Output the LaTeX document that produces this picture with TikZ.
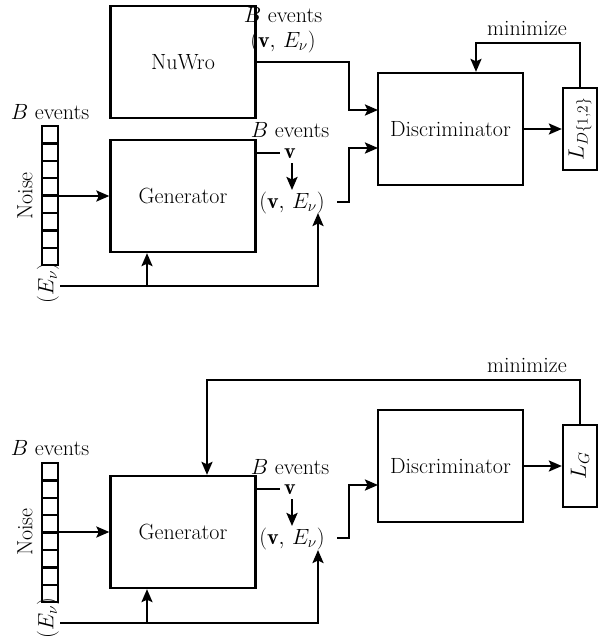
\RequirePackage{fix-cm}
\documentclass[tikz,border=0pt]{standalone}
\usepackage{fontspec}
\usetikzlibrary{arrows.meta}
\begin{document}
\begin{tikzpicture}[x=1pt,y=-1pt,
  every node/.style={font=\fontsize{22}{26}\selectfont, inner sep=0pt},
  blk/.style={draw, line width=2.3pt, minimum width=145pt, minimum height=112pt},
  lossbox/.style={draw, line width=2.3pt, minimum width=34pt, minimum height=82pt},
  wire/.style={line width=2.3pt},
  arr/.style={line width=2.3pt, -{Stealth[length=13pt,width=11pt,inset=2.5pt]}},
  cell/.style={draw, line width=2.3pt, minimum width=16pt, minimum height=17.4pt},
  strip/.style={draw, line width=2.3pt, minimum width=16pt, minimum height=139.2pt}]
\useasboundingbox (0,0) rectangle (600,638);

% ================= TOP =================
\node[blk] (nuwro) at (183,62) {NuWro};
\node[blk] (gen1) at (183,196) {Generator};
\node[blk] (disc1) at (450.5,129) {Discriminator};
\node[lossbox] (ld) at (580,129) {};
\node[rotate=90] at (ld.center) {$L_{D\{1,2\}}$};

% noise strip
\foreach \i in {0,...,7} {
  \node[cell] (c1\i) at (50,{134.7+17.4*\i}) {};
}
\node[strip] (noise1) at (50,195.5) {};
\node at (50,112) {$B$ events};
\node[rotate=90] (nlab1) at (25,196) {Noise};
\node[rotate=90] (ev1) at (48,283) {$(E_\nu)$};

\node (nb1) at (283,15) {$B$ events};
\node (nv1) at (283,42) {$(\mathbf{v},\,E_\nu)$};

\node (gb1) at (290,130) {$B$ events};
\node (gv1) at (290,154) {$\mathbf{v}$};
\node (gve1) at (292,203) {$(\mathbf{v},\,E_\nu)$};
\node (min1) at (527,28) {minimize};

\coordinate (d1a) at (378,110);
\coordinate (d1b) at (378,148);
\coordinate (e1) at (60,286);

\draw[arr] (noise1.east |- gen1.west) -- (gen1.west);
\draw[arr] (nuwro.east) -- (349,62) |- (d1a);
\draw[wire] (gen1.east |- 0,153) -- (280,153);
\draw[arr] (292,163) -- (292,190);
\draw[arr] (337,202) -- (349,202) |- (d1b);
\draw[arr] (e1) -- (318,286) -- (318,213);
\draw[arr] (147,286) -- (gen1.south -| 147,0);
\draw[arr] (disc1.east) -- (ld.west);
\draw[arr] (ld.north) |- (476,43) -- (disc1.north -| 476,0);

% ================= BOTTOM =================
\node[blk] (gen2) at (183,532) {Generator};
\node[blk] (disc2) at (450.5,466) {Discriminator};
\node[lossbox] (lg) at (580,466) {};
\node[rotate=90] at (lg.center) {$L_G$};

\foreach \i in {0,...,7} {
  \node[cell] (c2\i) at (50,{471.7+17.4*\i}) {};
}
\node[strip] (noise2) at (50,532.5) {};
\node at (50,448) {$B$ events};
\node[rotate=90] (nlab2) at (25,532) {Noise};
\node[rotate=90] (ev2) at (48,618) {$(E_\nu)$};

\node (gb2) at (290,467) {$B$ events};
\node (gv2) at (290,490) {$\mathbf{v}$};
\node (gve2) at (292,539) {$(\mathbf{v},\,E_\nu)$};
\node (min2) at (527,365) {minimize};

\coordinate (d2b) at (378,485);
\coordinate (e2) at (60,623);

\draw[arr] (noise2.east |- gen2.west) -- (gen2.west);
\draw[wire] (gen2.east |- 0,489) -- (280,489);
\draw[arr] (292,499) -- (292,526);
\draw[arr] (337,538) -- (349,538) |- (d2b);
\draw[arr] (e2) -- (318,623) -- (318,550);
\draw[arr] (147,623) -- (gen2.south -| 147,0);
\draw[arr] (disc2.east) -- (lg.west);
\draw[arr] (lg.north) |- (207,380) -- (gen2.north -| 207,0);
\end{tikzpicture}
\end{document}
